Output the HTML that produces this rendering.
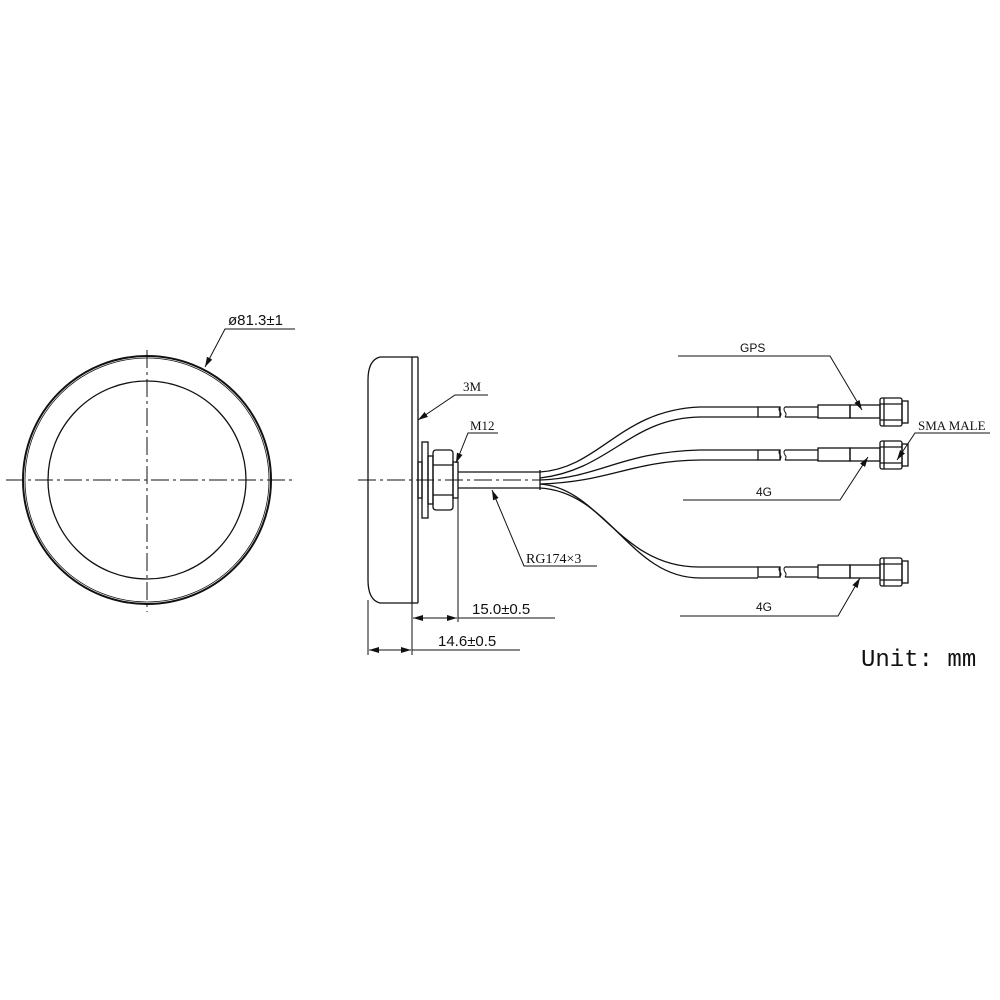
<!DOCTYPE html>
<html><head><meta charset="utf-8"><style>
html,body{margin:0;padding:0;background:#fff;}
svg{display:block;}
text{font-family:"Liberation Sans",sans-serif;fill:#111;}
.s{font-family:"Liberation Serif",serif;}
</style></head><body>
<svg width="1000" height="1000" viewBox="0 0 1000 1000" xmlns="http://www.w3.org/2000/svg">
<defs>
<marker id="a" markerWidth="10" markerHeight="6" refX="10" refY="3" orient="auto" markerUnits="userSpaceOnUse"><path d="M0,0 L10,3 L0,6 Z" fill="#111"/></marker>
</defs>
<g fill="none" stroke="#111" stroke-width="1.3">
<circle cx="147" cy="480" r="124" stroke-width="2"/>
<circle cx="147" cy="480" r="122" stroke-width="0.8"/>
<circle cx="147" cy="480" r="99"/>
<line x1="6" y1="480" x2="292" y2="480" stroke-width="1" stroke-dasharray="18,4,3,4"/>
<line x1="147" y1="350" x2="147" y2="612" stroke-width="1" stroke-dasharray="18,4,3,4"/>
<polyline points="295,329 225,329 205,367" marker-end="url(#a)" stroke-width="1"/>

<path d="M412,357 L380,357 Q368,360 368,380 L368,580 Q368,600 380,603 L412,603 Z"/>
<line x1="412" y1="357" x2="418" y2="357"/><line x1="418" y1="357" x2="418" y2="603"/><line x1="412" y1="603" x2="418" y2="603"/>
<line x1="358" y1="480" x2="540" y2="480" stroke-width="1" stroke-dasharray="18,4,3,4"/>
<rect x="422" y="442" width="6" height="76"/>
<rect x="418" y="462" width="4" height="36"/>
<rect x="428" y="456" width="5" height="48"/>
<rect x="433" y="450" width="20" height="60" rx="3"/>
<line x1="433" y1="465" x2="453" y2="465"/><line x1="433" y1="495" x2="453" y2="495"/>
<rect x="453" y="462" width="5" height="36"/>
<line x1="458" y1="472" x2="540" y2="472"/><line x1="458" y1="488" x2="540" y2="488"/>
<line x1="540" y1="470" x2="540" y2="490"/>
<path d="M540,472 C600,468 620,410 700,407 L758,407"/>
<path d="M540,478 C610,470 630,418 700,417 L758,417"/>
<path d="M540,480 C600,478 620,452 700,450 L758,450"/>
<path d="M540,484 C610,482 630,461 700,460 L758,460"/>
<path d="M540,484 C600,488 620,568 700,567 L758,567"/>
<path d="M540,488 C610,492 630,578 700,578 L758,578"/>
<g id="c">
<rect x="758" y="407" width="22" height="10"/>
<path d="M780,407 q-2,2 0,5 q2,2 0,5 M785,407 q-2,2 0,5 q2,2 0,5" stroke-width="1"/>
<line x1="785" y1="407" x2="818" y2="407"/><line x1="785" y1="417" x2="818" y2="417"/>
<rect x="818" y="405" width="32" height="13"/>
<rect x="850" y="405" width="30" height="13"/>
<rect x="880" y="398" width="22" height="28" rx="2"/>
<line x1="880" y1="404" x2="902" y2="404"/><line x1="880" y1="420" x2="902" y2="420"/>
<line x1="884" y1="398" x2="884" y2="426"/>
<rect x="902" y="401" width="6" height="22"/>
</g>
<use href="#c" transform="translate(0,43)"/>
<use href="#c" transform="translate(0,160)"/>
<polyline points="678,356 830,356 862,410" marker-end="url(#a)" stroke-width="1"/>
<polyline points="990,433 915,433 897,460" marker-end="url(#a)" stroke-width="1"/>
<polyline points="683,500 840,500 868,457" marker-end="url(#a)" stroke-width="1"/>
<polyline points="680,616 838,616 860,578" marker-end="url(#a)" stroke-width="1"/>
<polyline points="488,395 455,395 418,420" marker-end="url(#a)" stroke-width="1"/>
<polyline points="498,433 468,433 456,463" marker-end="url(#a)" stroke-width="1"/>
<polyline points="597,566 524,566 492,490" marker-end="url(#a)" stroke-width="1"/>
<line x1="458" y1="498" x2="458" y2="622" stroke-width="1"/>
<line x1="412" y1="603" x2="412" y2="655" stroke-width="1"/>
<line x1="368" y1="600" x2="368" y2="655" stroke-width="1"/>
<line x1="458" y1="618" x2="555" y2="618" stroke-width="1"/>
<line x1="435" y1="618" x2="413" y2="618" marker-end="url(#a)" stroke-width="1"/>
<line x1="435" y1="618" x2="457" y2="618" marker-end="url(#a)" stroke-width="1"/>
<line x1="412" y1="650" x2="520" y2="650" stroke-width="1"/>
<line x1="390" y1="650" x2="369" y2="650" marker-end="url(#a)" stroke-width="1"/>
<line x1="390" y1="650" x2="411" y2="650" marker-end="url(#a)" stroke-width="1"/>
</g>
<text x="228" y="325" font-size="15">ø81.3±1</text>
<text x="740" y="352" font-size="12">GPS</text>
<text x="918" y="430" font-size="13" class="s">SMA MALE</text>
<text x="756" y="496" font-size="12">4G</text>
<text x="756" y="611" font-size="12">4G</text>
<text x="463" y="391" font-size="13" class="s">3M</text>
<text x="470" y="430" font-size="13" class="s">M12</text>
<text x="526" y="563" font-size="14" class="s">RG174×3</text>
<text x="472" y="614" font-size="15">15.0±0.5</text>
<text x="438" y="646" font-size="15">14.6±0.5</text>
<text x="861" y="666" font-size="24" style="font-family:'Liberation Mono',monospace">Unit: mm</text>
</svg>
</body></html>
